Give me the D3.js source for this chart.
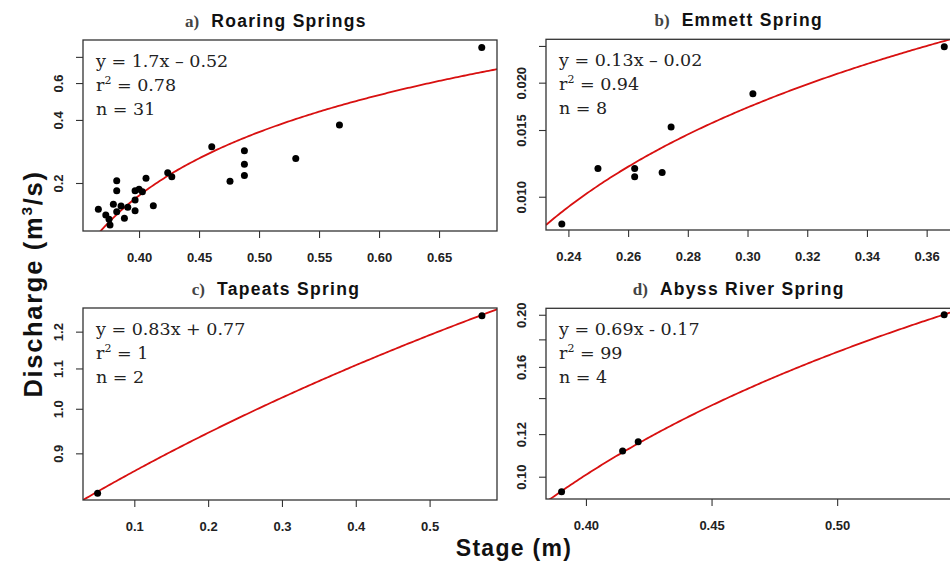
<!DOCTYPE html>
<html><head><meta charset="utf-8">
<script src="https://cdn.jsdelivr.net/npm/d3@7"></script>
<style>body{margin:0;background:#fff} svg{display:block}</style>
</head><body><svg id="chart" width="950" height="565"></svg>
<script>
// ---------- data ----------
const panelLetters = ["a)", "b)", "c)", "d)"];
const panelNames = ["Roaring Springs", "Emmett Spring", "Tapeats Spring", "Abyss River Spring"];

const aStage = [0.3661,0.3723,0.3750,0.3758,0.3786,0.3814,0.3814,0.3814,0.3850,0.3878,0.3906,0.3967,0.3967,0.3967,0.4000,0.4028,0.4058,0.4119,0.4239,0.4273,0.4606,0.4758,0.4878,0.4878,0.4878,0.5306,0.5670,0.6856];
const aDischarge = [0.1498,0.1407,0.1342,0.1260,0.1582,0.2051,0.1838,0.1459,0.1553,0.1357,0.1531,0.1475,0.1659,0.1838,0.1866,0.1818,0.2106,0.1558,0.2240,0.2143,0.2980,0.2040,0.2850,0.2460,0.2170,0.2620,0.3780,0.8880];

const bStage = [0.2378,0.2499,0.2622,0.2622,0.2714,0.2744,0.3018,0.3659];
const bDischarge = [0.00847,0.01188,0.01188,0.01129,0.01159,0.01527,0.01869,0.02489];

const cStage = [0.0503,0.5709];
const cDischarge = [0.819,1.246];

const dStage = [0.3903,0.4146,0.4208,0.5426];
const dDischarge = [0.0938,0.1116,0.1162,0.2000];

const fitSlopes = [1.758, 0.13, 0.8185, 0.697];
const fitIntercepts = [-0.529, -0.0218, 0.781, -0.178];

const eqLabels = ["y = 1.7x \u2013 0.52", "y = 0.13x \u2013 0.02", "y = 0.83x + 0.77", "y = 0.69x - 0.17"];
const r2Labels = ["0.78", "0.94", "1", "99"];
const nLabels = ["31", "8", "2", "4"];

const xDomains = [[0.3533,0.6983],[0.2325,0.3710],[0.0305,0.5913],[0.3841,0.5487]];
const yDomains = [[0.118,0.963],[0.00817,0.02603],[0.806,1.269],[0.0909,0.2056]];

const xTicks = [[0.40,0.45,0.50,0.55,0.60,0.65],[0.24,0.26,0.28,0.30,0.32,0.34,0.36],[0.1,0.2,0.3,0.4,0.5],[0.40,0.45,0.50]];
const xTickLabels = [["0.40","0.45","0.50","0.55","0.60","0.65"],["0.24","0.26","0.28","0.30","0.32","0.34","0.36"],["0.1","0.2","0.3","0.4","0.5"],["0.40","0.45","0.50"]];
const yTicks = [[0.2,0.4,0.6,0.8],[0.010,0.015,0.020,0.025],[0.9,1.0,1.1,1.2],[0.10,0.12,0.14,0.16,0.18,0.20]];
const yTickLabels = [["0.2","0.4","0.6",""],["0.010","0.015","0.020",""],["0.9","1.0","1.1","1.2"],["0.10","0.12","","0.16","","0.20"]];

const xAxisTitle = "Stage (m)";
const yAxisTitle = ["Discharge (m", "3", "/s)"];

// ---------- layout ----------
const stages = [aStage, bStage, cStage, dStage];
const discharges = [aDischarge, bDischarge, cDischarge, dDischarge];
const boxes = [
  {l:83, r:497, t:40, b:231},
  {l:546, r:959.5, t:39.3, b:230},
  {l:83, r:497, t:308, b:500},
  {l:546, r:959.5, t:308.3, b:499}
];

const svg = d3.select("#chart");
const SANS = "'Liberation Sans', Arial, Helvetica, sans-serif";
const SERIF = "'DejaVu Serif', serif";

boxes.forEach((bx, i) => {
  const x = d3.scaleLinear().domain(xDomains[i]).range([bx.l, bx.r]);
  const y = d3.scaleLog().domain(yDomains[i]).range([bx.b, bx.t]);
  const g = svg.append("g");

  const clipId = "clip" + i;
  svg.append("clipPath").attr("id", clipId).append("rect")
    .attr("x", bx.l).attr("y", bx.t).attr("width", bx.r - bx.l).attr("height", bx.b - bx.t);

  const xa = g.append("g").attr("transform", `translate(0,${bx.b})`)
    .call(d3.axisBottom(x).tickValues(xTicks[i]).tickFormat((d, k) => xTickLabels[i][k]).tickSize(7).tickSizeOuter(0));
  xa.select(".domain").remove();
  xa.selectAll(".tick line").attr("stroke", "#333").attr("stroke-width", 1.1);
  xa.selectAll(".tick text").attr("y", 30.5).attr("dy", 0)
    .attr("font-family", SANS).attr("font-weight", "bold").attr("font-size", 13).attr("fill", "#222");

  const ya = g.append("g").attr("transform", `translate(${bx.l},0)`)
    .call(d3.axisLeft(y).tickValues(yTicks[i]).tickFormat((d, k) => yTickLabels[i][k]).tickSize(7).tickSizeOuter(0));
  ya.select(".domain").remove();
  ya.selectAll(".tick line").attr("stroke", "#333").attr("stroke-width", 1.1);
  ya.selectAll(".tick text").attr("x", 0).attr("y", 0).attr("dy", 0)
    .attr("transform", "translate(-20,0) rotate(-90)")
    .attr("text-anchor", "middle")
    .attr("font-family", SANS).attr("font-weight", "bold").attr("font-size", 13).attr("fill", "#222");

  const xs = d3.range(0, 201).map(k => xDomains[i][0] + (xDomains[i][1] - xDomains[i][0]) * k / 200);
  const pts = xs.map(v => [v, fitSlopes[i] * v + fitIntercepts[i]]).filter(p => p[1] > 0);
  g.append("path").attr("clip-path", `url(#${clipId})`)
    .attr("d", d3.line().x(p => x(p[0])).y(p => y(p[1]))(pts))
    .attr("fill", "none").attr("stroke", "#d81010").attr("stroke-width", 1.8);

  g.append("g").selectAll("circle").data(stages[i].map((s, k) => [s, discharges[i][k]]))
    .join("circle")
    .attr("cx", d => x(d[0])).attr("cy", d => y(d[1])).attr("r", 3.5).attr("fill", "#000");

  g.append("rect").attr("x", bx.l).attr("y", bx.t).attr("width", bx.r - bx.l).attr("height", bx.b - bx.t)
    .attr("fill", "none").attr("stroke", "#333").attr("stroke-width", 1.3);

  const ax = bx.l + 13;
  const ann = g.append("g").attr("font-family", SERIF).attr("font-size", 17.5).attr("fill", "#222");
  ann.append("text").attr("x", ax).attr("y", bx.t + 27).text(eqLabels[i]);
  const r2 = ann.append("text").attr("x", ax).attr("y", bx.t + 51);
  r2.append("tspan").text("r");
  r2.append("tspan").attr("font-size", 11).attr("dy", -7).text("2");
  r2.append("tspan").attr("dy", 7).text(" = " + r2Labels[i]);
  ann.append("text").attr("x", ax).attr("y", bx.t + 75).text("n = " + nLabels[i]);

  const tt = svg.append("text").attr("x", (bx.l + bx.r) / 2 - 14).attr("y", bx.t - 13)
    .attr("text-anchor", "middle");
  tt.append("tspan").attr("font-family", "'Liberation Serif', 'Times New Roman', serif")
    .attr("font-weight", "bold").attr("font-size", 17).attr("fill", "#444").text(panelLetters[i]);
  tt.append("tspan").attr("dx", 12).attr("font-family", SANS).attr("font-weight", "bold")
    .attr("font-size", 17.5).attr("letter-spacing", 1.3).attr("fill", "#111").text(panelNames[i]);
});

svg.append("text").attr("x", 514).attr("y", 556).attr("text-anchor", "middle")
  .attr("font-family", SANS).attr("font-weight", "bold").attr("font-size", 23)
  .attr("letter-spacing", 1.3).attr("fill", "#111").text(xAxisTitle);

const yl = svg.append("text").attr("transform", "translate(42,284) rotate(-90)").attr("text-anchor", "middle")
  .attr("font-family", SANS).attr("font-weight", "bold").attr("font-size", 25.5)
  .attr("letter-spacing", 1.7).attr("fill", "#111");
yl.append("tspan").text(yAxisTitle[0]);
yl.append("tspan").attr("font-size", 15.5).attr("dy", -10).text(yAxisTitle[1]);
yl.append("tspan").attr("dy", 10).text(yAxisTitle[2]);
</script>
</body></html>
